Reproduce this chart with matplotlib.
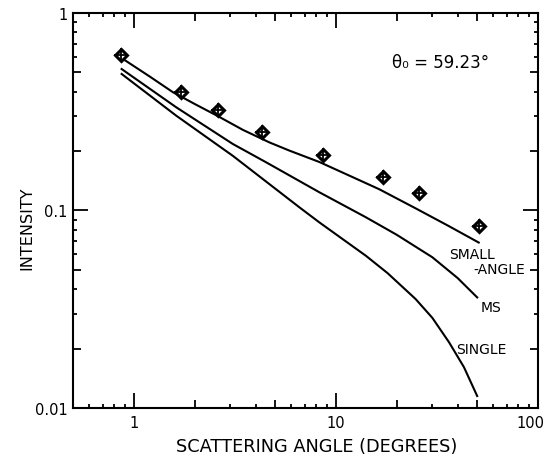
import numpy as np
import matplotlib
matplotlib.use('Agg')
import matplotlib.pyplot as plt
import matplotlib.transforms as mtransforms
from matplotlib.ticker import FixedLocator, FuncFormatter, NullFormatter

# measured points (diamonds)
x_mesure = [0.86, 1.72, 2.62, 4.3, 8.65, 17.0, 25.9, 50.9]
y_mesure = [0.613, 0.40, 0.323, 0.251, 0.191, 0.147, 0.122, 0.0838]

# small-angle curve
x_small = [0.85, 1.2, 1.56, 2.0, 2.61, 3.46, 4.69, 5.88, 8.27, 12.55, 16.4, 24.8, 36.0, 50.9]
y_small = [0.60, 0.476, 0.397, 0.346, 0.30, 0.256, 0.221, 0.201, 0.176, 0.145, 0.128, 0.1025, 0.0836, 0.0688]

# multiple scattering curve
x_ms = [0.87, 1.62, 3.09, 4.51, 6.59, 8.27, 14.06, 20.0, 29.97, 40.0, 50.0]
y_ms = [0.52, 0.333, 0.217, 0.1754, 0.141, 0.1237, 0.0924, 0.0753, 0.058, 0.0455, 0.0363]

# single scattering curve
x_single = [0.87, 1.62, 3.09, 6.59, 8.27, 14.06, 18.0, 24.8, 30.0, 36.3, 43.0, 50.0]
y_single = [0.491, 0.302, 0.189, 0.1038, 0.0871, 0.059, 0.0482, 0.0356, 0.0286, 0.0215, 0.0161, 0.0115]

fig = plt.figure(figsize=(5.49, 4.64), dpi=100)
ax = fig.add_axes([0.133, 0.1185, 0.847, 0.8515])

ax.plot(x_small, y_small, 'k-', lw=1.5)
ax.plot(x_ms, y_ms, 'k-', lw=1.5)
ax.plot(x_single, y_single, 'k-', lw=1.5)

ax.plot(x_mesure, y_mesure, 'D', ms=6, mfc='white', mec='k', mew=2.2, zorder=5)
ax.plot(x_mesure, y_mesure, '+', ms=10, mec='k', mew=1.3, zorder=6)

ax.set_xscale('log')
ax.set_yscale('log')
ax.set_xlim(0.5, 100)
ax.set_ylim(0.01, 1)

# ticks : long on decades, medium on 2 and 5, short elsewhere
x_major = [1, 2, 5, 10, 20, 50, 100]
x_minor = [0.6, 0.7, 0.8, 0.9, 3, 4, 6, 7, 8, 9, 30, 40, 60, 70, 80, 90]
y_major = [0.01, 0.02, 0.05, 0.1, 0.2, 0.5, 1]
y_minor = [0.03, 0.04, 0.06, 0.07, 0.08, 0.09, 0.3, 0.4, 0.6, 0.7, 0.8, 0.9]

def etiquette(v, pos):
    if v in (0.01, 0.1):
        return '%g' % v
    if v in (1, 10, 100):
        return '%d' % v
    return ''

ax.xaxis.set_major_locator(FixedLocator(x_major))
ax.xaxis.set_minor_locator(FixedLocator(x_minor))
ax.yaxis.set_major_locator(FixedLocator(y_major))
ax.yaxis.set_minor_locator(FixedLocator(y_minor))
ax.xaxis.set_major_formatter(FuncFormatter(etiquette))
ax.yaxis.set_major_formatter(FuncFormatter(etiquette))
ax.xaxis.set_minor_formatter(NullFormatter())
ax.yaxis.set_minor_formatter(NullFormatter())

ax.tick_params(which='both', direction='in', top=True, right=True, width=1.3, labelsize=10.5)
ax.tick_params(which='major', length=6)
ax.tick_params(which='minor', length=3)
ax.tick_params(axis='x', which='major', pad=5)
ax.tick_params(axis='y', which='major', pad=4)

for s in ax.spines.values():
    s.set_linewidth(1.5)

ax.text(36.2, 0.0602, 'SMALL', fontsize=10, va='center', ha='left')
ax.text(48.1, 0.0506, '-ANGLE', fontsize=10, va='center', ha='left')
ax.text(52.1, 0.0325, 'MS', fontsize=10, va='center', ha='left')
ax.text(39.2, 0.0199, 'SINGLE', fontsize=10, va='center', ha='left')
ax.text(0.686, 0.876, 'θ₀ = 59.23°', fontsize=12, transform=ax.transAxes, va='center')

fig.text(27 / 549, 1 - 228 / 464, 'INTENSITY', rotation=90, fontsize=11.5,
         ha='center', va='center')
fig.text(317 / 549, 1 - 447 / 464, 'SCATTERING ANGLE (DEGREES)', fontsize=12.8,
         ha='center', va='center')

fig.canvas.draw()
decalage = mtransforms.ScaledTranslation(-8 / 100, 0, fig.dpi_scale_trans)
for axis, decades in ((ax.xaxis, (1, 10, 100)), (ax.yaxis, (0.01, 0.1, 1))):
    for v, tick in zip(axis.get_majorticklocs(), axis.get_major_ticks()):
        if v in decades:
            tick.tick1line.set_markersize(11)
            tick.tick2line.set_markersize(11)
        if axis is ax.xaxis and v == 100:
            tick.label1.set_transform(tick.label1.get_transform() + decalage)

fig.savefig('out.png', dpi=100)
